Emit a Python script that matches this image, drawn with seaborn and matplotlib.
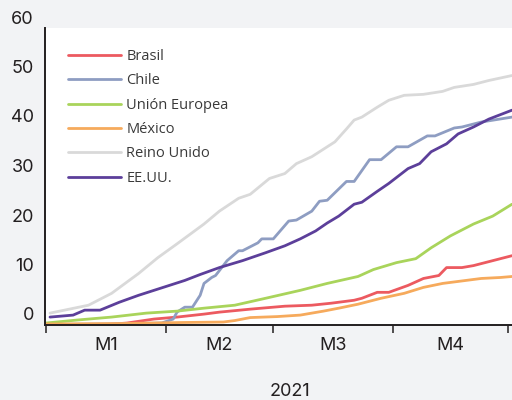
import numpy as np
import pandas as pd
import seaborn as sns
import matplotlib.pyplot as plt
from matplotlib.transforms import ScaledTranslation

sns.set_theme(style="white")
plt.rcParams['font.family'] = ['Inter', 'DejaVu Sans']

# Share of population with at least one vaccine dose (%), 2021, by day of year
brasil_days = [0, 16, 21, 28, 34, 41, 45, 53, 62, 69, 74, 80, 82, 86, 89, 94, 98, 102, 104, 108, 111, 116, 121]
brasil_vals = [0.0, 0.1, 0.4, 1.2, 1.6, 2.2, 2.6, 3.2, 3.8, 4.0, 4.4, 5.0, 5.4, 6.6, 6.6, 8.0, 9.4, 10.0, 11.6, 11.6, 12.0, 13.0, 14.0]

chile_days = [0, 15, 30, 33, 34, 36, 38, 40, 41, 43, 44, 47, 50, 51, 55, 56, 59, 63, 65, 69, 71, 73, 78, 80, 84, 87, 91, 94, 99, 101, 106, 108, 113, 121]
chile_vals = [0.1, 0.2, 0.4, 1.2, 2.6, 3.6, 3.6, 6.0, 8.4, 9.6, 10.0, 13.0, 15.0, 15.0, 16.6, 17.4, 17.4, 21.0, 21.2, 23.0, 25.0, 25.2, 29.0, 29.0, 33.4, 33.4, 36.0, 36.0, 38.2, 38.2, 39.8, 40.0, 41.0, 42.0]

ue_days = [0, 8, 17, 26, 34, 41, 49, 57, 66, 73, 81, 85, 91, 96, 100, 105, 111, 116, 121]
ue_vals = [0.4, 1.0, 1.6, 2.4, 2.8, 3.4, 4.0, 5.4, 7.0, 8.4, 9.8, 11.2, 12.6, 13.4, 15.6, 18.0, 20.4, 22.0, 24.4]

mexico_days = [0, 20, 35, 46, 49, 53, 60, 66, 72, 76, 81, 87, 93, 98, 103, 109, 113, 118, 121]
mexico_vals = [0.2, 0.3, 0.5, 0.6, 0.9, 1.5, 1.7, 2.0, 2.8, 3.4, 4.2, 5.4, 6.4, 7.6, 8.4, 9.0, 9.4, 9.6, 9.8]

uk_days = [1, 11, 17, 24, 29, 34, 41, 45, 50, 53, 58, 62, 65, 69, 75, 78, 80, 82, 86, 89, 93, 98, 103, 106, 111, 115, 121]
uk_vals = [2.4, 4.0, 6.4, 10.4, 13.6, 16.4, 20.4, 23.0, 25.6, 26.4, 29.6, 30.6, 32.6, 34.0, 37.0, 39.6, 41.4, 42.0, 44.0, 45.4, 46.4, 46.6, 47.2, 48.0, 48.6, 49.4, 50.4]

eeuu_days = [1, 7, 10, 14, 19, 24, 28, 32, 36, 40, 45, 51, 57, 62, 66, 70, 73, 76, 80, 82, 86, 89, 94, 97, 100, 104, 107, 111, 115, 121]
eeuu_vals = [1.6, 2.0, 3.0, 3.0, 4.6, 6.0, 7.0, 8.0, 9.0, 10.2, 11.6, 13.0, 14.6, 16.0, 17.4, 19.0, 20.6, 22.0, 24.4, 24.8, 27.0, 28.6, 31.6, 32.6, 35.0, 36.6, 38.6, 40.0, 41.6, 43.4]

countries = ["Brasil", "Chile", "Unión Europea", "México", "Reino Unido", "EE.UU."]
colors = ["#ec5a60", "#8e9dc2", "#a9d45b", "#f6aa5c", "#d9d9d9", "#5c3f9a"]

month_edges = [0, 31, 59, 90, 120]
month_labels = ["M1", "M2", "M3", "M4"]
y_ticks = [0, 10, 20, 30, 40, 50, 60]

series = [(brasil_days, brasil_vals), (chile_days, chile_vals), (ue_days, ue_vals),
          (mexico_days, mexico_vals), (uk_days, uk_vals), (eeuu_days, eeuu_vals)]
frames = [pd.DataFrame({"dia": d, "valor": v, "pais": name})
          for name, (d, v) in zip(countries, series)]
df = pd.concat(frames, ignore_index=True)

bg = "#f2f3f5"
ink = "#231f20"
fig = plt.figure(figsize=(5.12, 4.0), dpi=100, facecolor=bg)
ax = fig.add_axes([45 / 512, 75 / 400, 1 - 45 / 512, (325 - 28) / 400])
ax.set_facecolor("white")

sns.lineplot(data=df, x="dia", y="valor", hue="pais", hue_order=countries,
             palette=dict(zip(countries, colors)), linewidth=2.0,
             estimator=None, sort=True, ax=ax)

ax.set_xlim(-0.3, 121)
ax.set_ylim(0, 59.4)
ax.set_xlabel("")
ax.set_ylabel("")

for side in ["top", "right"]:
    ax.spines[side].set_visible(False)
for side in ["left", "bottom"]:
    ax.spines[side].set_color(ink)
    ax.spines[side].set_linewidth(1.4)

# x axis: month boundaries as ticks, month names centred between them
ax.set_xticks(month_edges)
ax.set_xticklabels([""] * len(month_edges))
mids = [(a + b) / 2 for a, b in zip(month_edges[:-1], month_edges[1:])]
ax.set_xticks(mids, minor=True)
ax.set_xticklabels(month_labels, minor=True, fontsize=13, color=ink)
ax.tick_params(axis="x", which="major", direction="out", length=6, width=1.1,
               color=ink, bottom=True)
ax.tick_params(axis="x", which="minor", length=0, pad=9, bottom=True)

# y axis: labels sit a little above their gridline position
ax.set_yticks(y_ticks)
ax.set_yticklabels([str(t) for t in y_ticks], fontsize=13, color=ink)
ax.tick_params(axis="y", length=0, pad=8)
shift = ScaledTranslation(0, 0.11, fig.dpi_scale_trans)
for lab in ax.get_yticklabels():
    lab.set_transform(lab.get_transform() + shift)
    lab.set_clip_on(False)

handles, labels = ax.get_legend_handles_labels()
leg = ax.legend(handles, labels, loc="upper left",
                bbox_to_anchor=(68 / 512, 1 - 49 / 400), bbox_transform=fig.transFigure,
                frameon=False, borderpad=0, borderaxespad=0,
                handlelength=3.6, handletextpad=0.4, labelspacing=0.64,
                prop={"family": ["Open Sans", "DejaVu Sans"], "size": 10.5})
for t in leg.get_texts():
    t.set_color("#3a3a3a")

fig.text(290 / 512, 1 - 391 / 400, "2021", ha="center", va="center",
         fontsize=13, color=ink)

fig.savefig("out.png", dpi=100, facecolor=bg)
